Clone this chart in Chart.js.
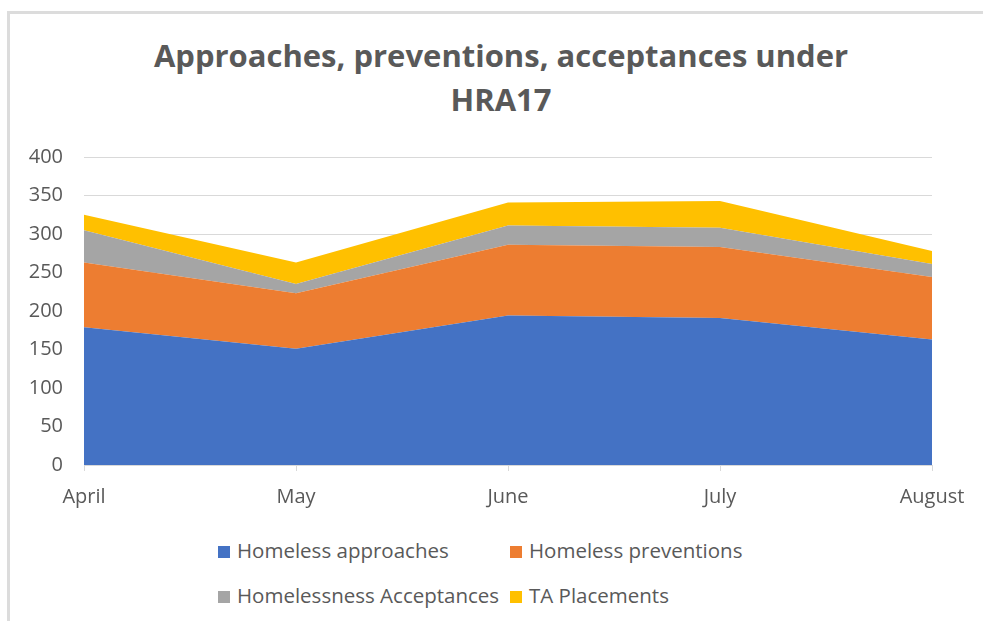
<!DOCTYPE html>
<html>
<head>
<meta charset="utf-8">
<script src="https://cdn.jsdelivr.net/npm/chart.js@4/dist/chart.umd.min.js"></script>
<style>
  html, body { margin: 0; padding: 0; background: #fff; }
  body { width: 983px; height: 621px; position: relative; overflow: hidden; font-family: "Open Sans", sans-serif; color: #595959; }
  #frame { position: absolute; left: 7px; top: 11px; width: 1100px; height: 800px; border-left: 3px solid #dcdcdc; border-top: 3px solid #dcdcdc; }
  #title { position: absolute; left: 0; width: 1002px; top: 33px; text-align: center; font-weight: 700; font-size: 31px; line-height: 44px; color: #595959; }
  #chartBox { position: absolute; left: 0; top: 124px; width: 983px; height: 396px; }
  .lg { position: absolute; font-size: 20.5px; line-height: 26px; white-space: nowrap; }
  .lg i { display: inline-block; width: 12px; height: 12px; margin-right: 7px; vertical-align: 0px; }
</style>
</head>
<body>
<div id="frame"></div>
<div id="title">Approaches, preventions, acceptances under<br>HRA17</div>
<div id="chartBox"><canvas id="hraChart"></canvas></div>
<div id="legend"></div>
<script>
var months = ["April", "May", "June", "July", "August"];
var seriesNames = ["Homeless approaches", "Homeless preventions", "Homelessness Acceptances", "TA Placements"];
var approaches = [179, 151, 194, 191, 163];
var preventions = [84, 72, 92, 92, 81];
var acceptances = [42, 12, 25, 25, 17];
var taPlacements = [20, 28, 30, 35, 17];
var yTicks = [0, 50, 100, 150, 200, 250, 300, 350, 400];
var seriesColors = ["#4472C4", "#ED7D31", "#A5A5A5", "#FFC000"];

var seriesData = [approaches, preventions, acceptances, taPlacements];

// legend laid out in two columns like the office chart
var legendPos = [[218, 537], [510, 537], [218, 582], [510, 582]];
var legendHost = document.getElementById("legend");
seriesNames.forEach(function (name, i) {
  var d = document.createElement("div");
  d.className = "lg";
  d.style.left = legendPos[i][0] + "px";
  d.style.top = legendPos[i][1] + "px";
  d.innerHTML = '<i style="background:' + seriesColors[i] + '"></i>' + name;
  legendHost.appendChild(d);
});

var tickFont = { family: "'Open Sans', sans-serif", size: 20 };

new Chart(document.getElementById("hraChart"), {
  type: "line",
  data: {
    labels: months,
    datasets: seriesData.map(function (vals, i) {
      return {
        label: seriesNames[i],
        data: vals,
        backgroundColor: seriesColors[i],
        borderWidth: 0,
        pointRadius: 0,
        tension: 0,
        fill: i === 0 ? "origin" : "-1",
      };
    }),
  },
  options: {
    responsive: true,
    maintainAspectRatio: false,
    animation: false,
    layout: { padding: { top: 2, right: 51, left: 0, bottom: 0 } },
    plugins: { legend: { display: false }, tooltip: { enabled: false } },
    scales: {
      x: {
        offset: false,
        grid: { drawOnChartArea: false, drawTicks: true, tickLength: 6, color: "#d9d9d9" },
        border: { display: true, color: "#d9d9d9" },
        ticks: { color: "#595959", font: tickFont, padding: 14, maxRotation: 0 },
        afterFit: function (s) { s.height = 55; },
      },
      y: {
        stacked: true,
        min: 0,
        max: 400,
        afterBuildTicks: function (s) {
          s.ticks = yTicks.map(function (v) { return { value: v }; });
        },
        grid: { color: "#d9d9d9", drawTicks: false },
        border: { display: false },
        ticks: { color: "#595959", font: tickFont, padding: 21 },
        afterFit: function (s) { s.width = 84; },
      },
    },
  },
});
</script>
</body>
</html>
